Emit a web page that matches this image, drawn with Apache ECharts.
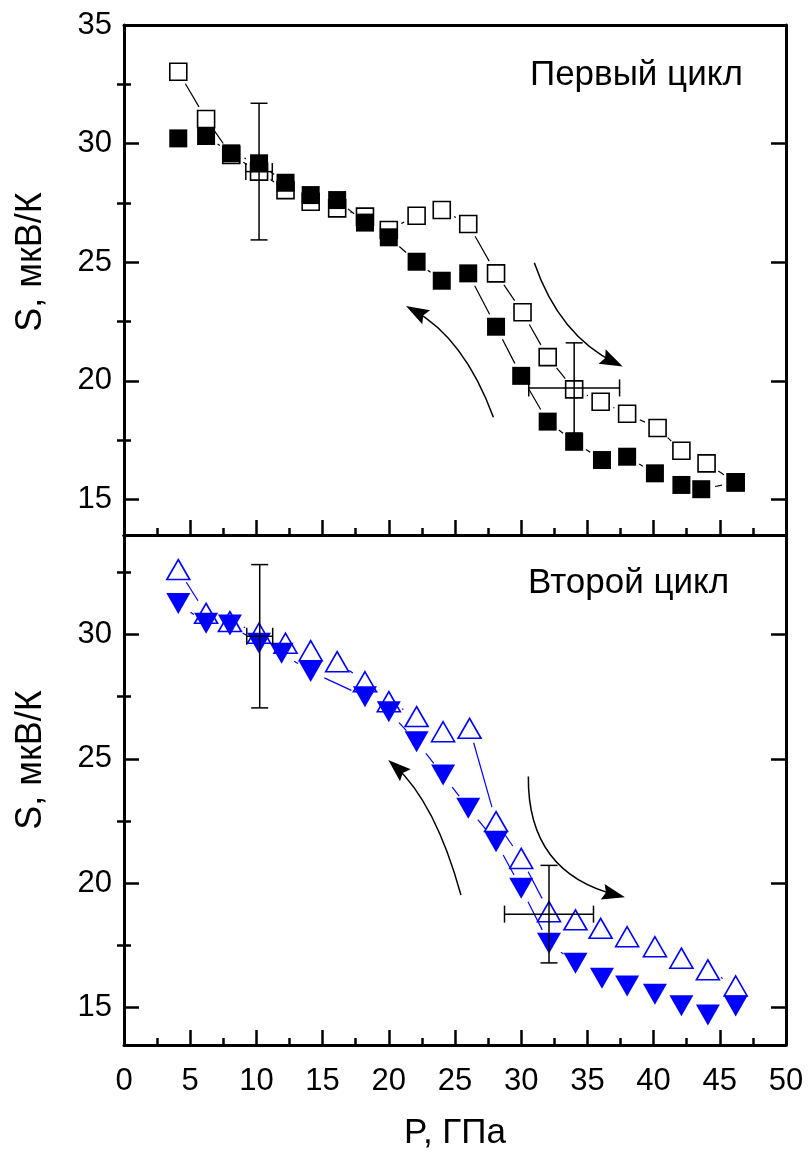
<!DOCTYPE html>
<html>
<head>
<meta charset="utf-8">
<title>S(P)</title>
<script src="https://cdn.jsdelivr.net/npm/echarts@6/dist/echarts.min.js"></script>
<style>
  html, body { margin: 0; padding: 0; background: #fff; }
  #chart { width: 808px; height: 1157px; }
</style>
</head>
<body>
<div id="chart"></div>
<script>
// ---- Cycle 1: open squares (pressure up), filled squares (pressure down)
const p1Up   = [4.1, 6.2, 8.1, 10.2, 12.2, 14.1, 16.1, 18.2, 20.0, 22.1, 24.0, 26.0, 28.1, 30.1, 32.0, 34.0, 36.0, 38.0, 40.3, 42.1, 44.0, 46.2];
const s1Up   = [33.03, 31.04, 29.52, 28.82, 28.04, 27.55, 27.27, 26.92, 26.36, 26.96, 27.2, 26.61, 24.53, 22.89, 21.0, 19.64, 19.12, 18.61, 18.01, 17.05, 16.52, 15.72];
const p1Down = [4.1, 6.2, 8.1, 10.2, 12.2, 14.1, 16.1, 18.2, 20.0, 22.1, 24.0, 26.0, 28.1, 30.0, 32.0, 34.0, 36.1, 38.0, 40.1, 42.1, 43.6, 46.2];
const s1Down = [30.22, 30.32, 29.59, 29.17, 28.35, 27.83, 27.62, 26.67, 26.05, 25.02, 24.22, 24.53, 22.28, 20.21, 18.28, 17.43, 16.66, 16.8, 16.1, 15.61, 15.43, 15.72];

// ---- Cycle 2: open triangles (pressure up), filled triangles (pressure down)
const p2Up   = [4.1, 6.2, 8.0, 10.2, 12.2, 14.1, 16.1, 18.2, 20.0, 22.1, 24.1, 26.1, 28.1, 30.0, 32.1, 34.1, 36.0, 38.0, 40.1, 42.1, 44.1, 46.2];
const s2Up   = [32.61, 30.85, 30.52, 30.05, 29.65, 29.35, 28.91, 28.1, 27.3, 26.7, 26.09, 26.23, 22.48, 21.0, 18.86, 18.53, 18.19, 17.85, 17.45, 16.99, 16.52, 15.87];
const p2Down = [4.1, 6.2, 8.0, 10.2, 11.9, 14.1, 18.2, 20.0, 22.1, 24.1, 26.0, 28.1, 30.0, 32.1, 34.1, 36.1, 38.0, 40.1, 42.1, 44.1, 46.2];
const s2Down = [31.25, 30.45, 30.38, 29.65, 29.25, 28.51, 27.5, 26.9, 25.69, 24.35, 23.02, 21.67, 19.8, 17.59, 16.79, 16.18, 15.87, 15.54, 15.08, 14.71, 15.07];

// ---- Error bars: [P, S, dP, dS]
const err1 = [[10.2, 28.82, 1.0, 2.88], [34.0, 19.7, 3.43, 1.9]];
const err2 = [[10.25, 29.93, 0.98, 2.88], [32.1, 18.76, 3.36, 1.96]];

// ---- Direction arrows: [start P, start S, mid P, mid S, tip P, tip S]
const arrows1 = [[27.9, 18.46, 25.15, 21.3, 21.3, 23.15], [30.99, 24.98, 33.61, 22.35, 37.67, 20.6]];
const arrows2 = [[25.45, 19.53, 23.11, 22.75, 19.96, 24.96], [30.54, 24.29, 32.33, 21.14, 37.84, 19.44]];

// ---- Axis ticks
const xRange = [0, 50];
const y1Range = [13.5, 35];
const y2Range = [13.5, 34];
const y1Major = [15, 20, 25, 30, 35];
const y1Minor = [17.5, 22.5, 27.5, 32.5];
const y2Major = [15, 20, 25, 30];
const y2Minor = [17.5, 22.5, 27.5, 32.5];

const FONT = '"Liberation Sans", Arial, sans-serif';
const BLUE = '#0000ff';
const AXIS_W = 3, TICK_W = 2.5;
const LABEL_SIZE = 31, TITLE_SIZE = 35;

function xAxes(gridIndex, withLabels) {
  return [{
    type: 'value', gridIndex, position: 'bottom', min: xRange[0], max: xRange[1], interval: 5,
    axisLine: { show: true, onZero: false, lineStyle: { color: '#000', width: AXIS_W } },
    axisTick: { show: true, inside: true, length: 15, lineStyle: { color: '#000', width: TICK_W } },
    minorTick: { show: true, splitNumber: 2, length: 7, lineStyle: { color: '#000', width: TICK_W } },
    axisLabel: { show: withLabels, margin: 21, fontSize: LABEL_SIZE, fontFamily: FONT, color: '#000' },
    splitLine: { show: false },
    name: withLabels ? 'P, ГПа' : '',
    nameLocation: 'middle', nameGap: 71,
    nameTextStyle: { fontSize: TITLE_SIZE, fontFamily: FONT, color: '#000' }
  }, {
    type: 'value', gridIndex, position: 'top', min: xRange[0], max: xRange[1], interval: 5,
    axisLine: { show: true, onZero: false, lineStyle: { color: '#000', width: AXIS_W } },
    axisTick: { show: false }, axisLabel: { show: false }, splitLine: { show: false }
  }];
}

function yAxes(gridIndex, range, major, minor) {
  const base = { type: 'value', gridIndex, min: range[0], max: range[1], splitLine: { show: false } };
  const tick = { color: '#000', width: TICK_W };
  const line = { show: true, onZero: false, lineStyle: { color: '#000', width: AXIS_W } };
  return [
    Object.assign({}, base, {
      position: 'left', axisLine: line,
      axisTick: { show: true, inside: true, length: 15, customValues: major, lineStyle: tick },
      axisLabel: { show: true, customValues: major, margin: 12, fontSize: LABEL_SIZE, fontFamily: FONT, color: '#000' }
    }),
    Object.assign({}, base, {
      position: 'left', axisLine: { show: false },
      axisTick: { show: true, inside: true, length: 7, customValues: minor, lineStyle: tick },
      axisLabel: { show: false }
    }),
    Object.assign({}, base, {
      position: 'right', axisLine: line,
      axisTick: { show: true, inside: true, length: 15, customValues: major, lineStyle: tick },
      axisLabel: { show: false }
    }),
    Object.assign({}, base, {
      position: 'right', axisLine: { show: false },
      axisTick: { show: true, inside: true, length: 7, customValues: minor, lineStyle: tick },
      axisLabel: { show: false }
    })
  ];
}

// Connecting line that leaves a small gap around each symbol
function gapLine(xs, ys, xIdx, yIdx, color, width, gap) {
  return {
    type: 'custom', xAxisIndex: xIdx, yAxisIndex: yIdx, clip: false, silent: true,
    data: xs.map((x, i) => [x, ys[i]]),
    encode: { x: 0, y: 1 },
    renderItem(params, api) {
      const i = params.dataIndexInside;
      if (i >= params.dataInsideLength - 1) return { type: 'group', children: [] };
      const a = api.coord([api.value(0, i), api.value(1, i)]);
      const b = api.coord([api.value(0, i + 1), api.value(1, i + 1)]);
      const dx = b[0] - a[0], dy = b[1] - a[1];
      const len = Math.hypot(dx, dy);
      if (len <= 2 * gap + 1) return { type: 'group', children: [] };
      const ux = dx / len, uy = dy / len;
      return {
        type: 'line',
        shape: { x1: a[0] + ux * gap, y1: a[1] + uy * gap, x2: b[0] - ux * gap, y2: b[1] - uy * gap },
        style: { stroke: color, lineWidth: width }
      };
    }
  };
}

function markers(xs, ys, xIdx, yIdx, opts) {
  return Object.assign({
    type: 'scatter', xAxisIndex: xIdx, yAxisIndex: yIdx, silent: true,
    data: xs.map((x, i) => [x, ys[i]])
  }, opts);
}

function errorBars(data, xIdx, yIdx) {
  return {
    type: 'custom', xAxisIndex: xIdx, yAxisIndex: yIdx, clip: false, silent: true, z: 5,
    data, encode: { x: 0, y: 1 },
    renderItem(params, api) {
      const x = api.value(0), y = api.value(1), ex = api.value(2), ey = api.value(3);
      const l = api.coord([x - ex, y]), r = api.coord([x + ex, y]);
      const t = api.coord([x, y + ey]), b = api.coord([x, y - ey]);
      const cap = 8.5;
      const style = { stroke: '#000', lineWidth: 1.5 };
      const seg = (x1, y1, x2, y2) => ({ type: 'line', shape: { x1, y1, x2, y2 }, style });
      return {
        type: 'group', children: [
          seg(t[0], t[1], b[0], b[1]),
          seg(t[0] - cap, t[1], t[0] + cap, t[1]),
          seg(b[0] - cap, b[1], b[0] + cap, b[1]),
          seg(l[0], l[1], r[0], r[1]),
          seg(l[0], l[1] - cap, l[0], l[1] + cap),
          seg(r[0], r[1] - cap, r[0], r[1] + cap)
        ]
      };
    }
  };
}

// Curved arrow: quadratic curve through start, mid and tip, with a filled head
function arrowSeries(data, xIdx, yIdx) {
  return {
    type: 'custom', xAxisIndex: xIdx, yAxisIndex: yIdx, clip: false, silent: true, z: 4,
    data, encode: { x: [0, 2, 4], y: [1, 3, 5] },
    renderItem(params, api) {
      const s = api.coord([api.value(0), api.value(1)]);
      const m = api.coord([api.value(2), api.value(3)]);
      const e = api.coord([api.value(4), api.value(5)]);
      const cp = [2 * m[0] - (s[0] + e[0]) / 2, 2 * m[1] - (s[1] + e[1]) / 2];
      let dx = e[0] - cp[0], dy = e[1] - cp[1];
      const len = Math.hypot(dx, dy); dx /= len; dy /= len;
      const L = 23, W = 8;
      const bx = e[0] - dx * L, by = e[1] - dy * L;
      const head = [
        [e[0], e[1]],
        [bx - dy * W, by + dx * W],
        [e[0] - dx * L * 0.85, e[1] - dy * L * 0.85],
        [bx + dy * W, by - dx * W]
      ];
      return {
        type: 'group', children: [
          { type: 'bezierCurve', shape: { x1: s[0], y1: s[1], x2: e[0] - dx * 8, y2: e[1] - dy * 8, cpx1: cp[0], cpy1: cp[1] },
            style: { stroke: '#000', fill: 'none', lineWidth: 1.5 } },
          { type: 'polygon', shape: { points: head }, style: { fill: '#000' } }
        ]
      };
    }
  };
}

const chart = echarts.init(document.getElementById('chart'));

chart.setOption({
  animation: false,
  backgroundColor: '#fff',
  grid: [
    { left: 124, top: 25, width: 662, height: 510 },
    { left: 124, top: 535, width: 662, height: 510 }
  ],
  xAxis: [].concat(xAxes(0, false), xAxes(1, true)),
  yAxis: [].concat(yAxes(0, y1Range, y1Major, y1Minor), yAxes(1, y2Range, y2Major, y2Minor)),
  graphic: [
    { type: 'text', x: 530, y: 75, style: { text: 'Первый цикл', font: '35px ' + FONT, fill: '#000', verticalAlign: 'middle' } },
    { type: 'text', x: 528, y: 583, style: { text: 'Второй цикл', font: '35px ' + FONT, fill: '#000', verticalAlign: 'middle' } },
    { type: 'text', x: 31, y: 262, rotation: Math.PI / 2, style: { text: 'S, мкВ/К', font: '36px ' + FONT, fill: '#000', align: 'center', verticalAlign: 'middle' } },
    { type: 'text', x: 31, y: 760, rotation: Math.PI / 2, style: { text: 'S, мкВ/К', font: '36px ' + FONT, fill: '#000', align: 'center', verticalAlign: 'middle' } }
  ],
  series: [
    // cycle 1
    gapLine(p1Up, s1Up, 0, 0, '#000', 1.2, 14),
    markers(p1Up, s1Up, 0, 0, { symbol: 'rect', symbolSize: 17, itemStyle: { color: '#fff', borderColor: '#000', borderWidth: 1.6, opacity: 1 } }),
    gapLine(p1Down, s1Down, 0, 0, '#000', 1.2, 14),
    markers(p1Down, s1Down, 0, 0, { symbol: 'rect', symbolSize: 18, itemStyle: { color: '#000', opacity: 1 } }),
    errorBars(err1, 0, 0),
    arrowSeries(arrows1, 0, 0),
    // cycle 2
    gapLine(p2Up, s2Up, 2, 4, BLUE, 1.2, 15),
    markers(p2Up, s2Up, 2, 4, { symbol: 'triangle', symbolSize: [23, 20], itemStyle: { color: '#fff', borderColor: BLUE, borderWidth: 1.6, opacity: 1 } }),
    gapLine(p2Down, s2Down, 2, 4, BLUE, 1.2, 15),
    markers(p2Down, s2Down, 2, 4, { symbol: 'triangle', symbolRotate: 180, symbolSize: [24, 21], itemStyle: { color: BLUE, opacity: 1 } }),
    errorBars(err2, 2, 4),
    arrowSeries(arrows2, 2, 4)
  ]
});
</script>
</body>
</html>
